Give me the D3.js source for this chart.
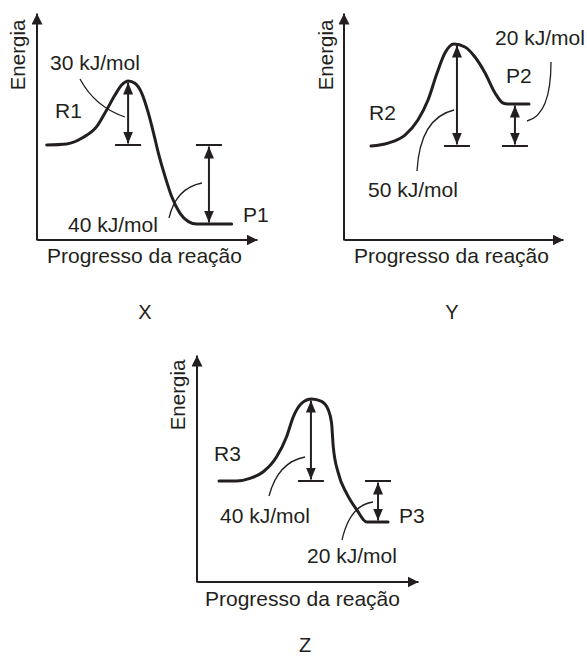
<!DOCTYPE html>
<html lang="pt">
<head>
	<meta charset="utf-8">
	<title>Diagramas de energia X, Y, Z</title>
	<script type="text/javascript" src="https://cdn.jsdelivr.net/npm/d3@7"></script>
	<style>
		body { margin: 0; background: #fff; }
		svg text { font-family: "Liberation Sans", Arial, sans-serif; fill: #231f20; }
	</style>
</head>
<body>
<script type="text/javascript">
	// ---- data ----
	var panelNames = ["X", "Y", "Z"];
	var reagentLabels = ["R1", "R2", "R3"];
	var productLabels = ["P1", "P2", "P3"];
	var activationEnergy = [30, 50, 40];   // kJ/mol
	var reactionEnergy = [-40, 20, -20];   // kJ/mol (produtos - reagentes)
	var xTitle = "Progresso da reação";
	var yTitle = "Energia";

	// energy profiles: progress along the curve (0..1) and energy (kJ/mol)
	var progressX = [0, 0.108, 0.198, 0.27, 0.324, 0.369, 0.405, 0.441, 0.477, 0.514, 0.55, 0.577, 0.604, 0.64, 0.676, 0.721, 0.766, 0.811, 1];
	var energyX   = [0, 0.5, 3.6, 8.6, 16.4, 23.4, 28.1, 30, 28.9, 24.2, 14.8, 5.8, -4.2, -16, -26.2, -34.6, -38.8, -40, -40];
	var progressY = [0, 0.108, 0.215, 0.297, 0.361, 0.418, 0.468, 0.525, 0.595, 0.658, 0.722, 0.785, 0.835, 0.867, 1];
	var energyY   = [0, 1.4, 5.2, 12.4, 22, 35.5, 45.5, 50, 48.5, 43.5, 35.5, 25.5, 20.5, 20, 20];
	var progressZ = [0, 0.103, 0.183, 0.262, 0.341, 0.40, 0.44, 0.49, 0.548, 0.607, 0.646, 0.666, 0.676, 0.706, 0.755, 0.815, 0.874, 1];
	var energyZ   = [0, 0, 1.3, 4.5, 11.8, 21.6, 31.4, 38, 40, 38.8, 34.8, 28.3, 16.8, 3.8, -6, -14, -20, -20];
	var profiles = [[progressX, energyX], [progressY, energyY], [progressZ, energyZ]];

	// where the two double arrows stand (progress)
	var eaPosition = [0.44, 0.544, 0.544];
	var dhPosition = [0.877, 0.911, 0.941];

	// ---- layout (pixels) ----
	var layout = [
		{ yR: 145, yP: 224, yTS: 81, x0: 46.7, x1: 231.7, axisX: 37, axisY: 240, axisTop: 13, axisRight: 257,
		  yTitle: [25, 55], xTitle: [47, 263], name: [145, 319],
		  eaText: [50, 70], dhText: [68, 232], rText: [55, 118], pText: [243, 222],
		  eaLeader: [[80, 79], [95, 107], [125, 117]], dhLeader: [[169, 218], [176, 188], [202, 183]] },
		{ yR: 146, yP: 104, yTS: 44, x0: 371, x1: 529, axisX: 344, axisY: 240, axisTop: 13, axisRight: 563,
		  yTitle: [333, 55], xTitle: [354, 263], name: [452, 319],
		  eaText: [368, 197], dhText: [495, 45], rText: [369, 120], pText: [506, 83],
		  eaLeader: [[417, 171], [420, 118], [454, 110]], dhLeader: [[551, 62], [551, 115], [527, 121]] },
		{ yR: 481, yP: 522, yTS: 399, x0: 219, x1: 388, axisX: 197, axisY: 582, axisTop: 355, axisRight: 418,
		  yTitle: [185, 395], xTitle: [205, 606], name: [305, 652],
		  eaText: [220, 523], dhText: [307, 563], rText: [214, 461], pText: [399, 523],
		  eaLeader: [[269, 496], [278, 462], [305, 457]], dhLeader: [[342, 540], [350, 505], [373, 502]] }
	];

	var ink = "#231f20";
	var fontSize = 21;

	var svg = d3.select("body")
				.append("svg")
				.attr("width", 587)
				.attr("height", 658);

	var defs = svg.append("defs");
	// axis arrow head
	defs.append("marker")
		.attr("id", "axisHead")
		.attr("viewBox", "0 0 10 10")
		.attr("refX", 10).attr("refY", 5)
		.attr("markerUnits", "userSpaceOnUse")
		.attr("markerWidth", 11).attr("markerHeight", 11)
		.attr("orient", "auto")
		.append("path").attr("d", "M0,0L10,5L0,10Z").attr("fill", ink);
	// heads for the energy arrows (end and start)
	defs.append("marker")
		.attr("id", "headEnd")
		.attr("viewBox", "0 0 12 10")
		.attr("refX", 12).attr("refY", 5)
		.attr("markerUnits", "userSpaceOnUse")
		.attr("markerWidth", 12).attr("markerHeight", 10)
		.attr("orient", "auto")
		.append("path").attr("d", "M0,0L12,5L0,10Z").attr("fill", ink);
	defs.append("marker")
		.attr("id", "headStart")
		.attr("viewBox", "0 0 12 10")
		.attr("refX", 0).attr("refY", 5)
		.attr("markerUnits", "userSpaceOnUse")
		.attr("markerWidth", 12).attr("markerHeight", 10)
		.attr("orient", "auto")
		.append("path").attr("d", "M12,0L0,5L12,10Z").attr("fill", ink);

	function leader(g, pts) {
		var p = d3.path();
		p.moveTo(pts[0][0], pts[0][1]);
		p.quadraticCurveTo(pts[1][0], pts[1][1], pts[2][0], pts[2][1]);
		g.append("path")
			.attr("d", p.toString())
			.attr("fill", "none")
			.attr("stroke", ink)
			.attr("stroke-width", 1.3);
	}

	function energyArrow(g, x, yFrom, yTo) {
		// short inset so the heads sit on the lines
		var dir = yTo < yFrom ? -1 : 1;
		g.append("line")
			.attr("x1", x).attr("y1", yFrom + dir * 1.5)
			.attr("x2", x).attr("y2", yTo - dir * 1.5)
			.attr("stroke", ink)
			.attr("stroke-width", 2)
			.attr("marker-start", "url(#headStart)")
			.attr("marker-end", "url(#headEnd)");
	}

	function tick(g, x, y) {
		g.append("line")
			.attr("x1", x - 13).attr("x2", x + 13)
			.attr("y1", y).attr("y2", y)
			.attr("stroke", ink)
			.attr("stroke-width", 2);
	}

	panelNames.forEach(function(name, i) {
		var L = layout[i];
		var ea = activationEnergy[i], dh = reactionEnergy[i];
		var g = svg.append("g").attr("class", "panel-" + name);

		// scales: progress -> x, energy -> y (reagents, products, transition state)
		var xScale = d3.scaleLinear().domain([0, 1]).range([L.x0, L.x1]);
		var levels = [[0, L.yR], [dh, L.yP], [ea, L.yTS]].sort(function(a, b) { return a[0] - b[0]; });
		var yScale = d3.scaleLinear()
						.domain(levels.map(function(d) { return d[0]; }))
						.range(levels.map(function(d) { return d[1]; }));

		// axes drawn with d3 axis, no ticks, arrow on the domain path
		var xAxisScale = d3.scaleLinear()
							.domain([xScale.invert(L.axisX), xScale.invert(L.axisRight)])
							.range([L.axisX, L.axisRight]);
		var yAxisScale = d3.scaleLinear()
							.domain([yScale.invert(L.axisY), yScale.invert(L.axisTop)])
							.range([L.axisY, L.axisTop]);

		g.append("g")
			.attr("class", "axis")
			.attr("transform", "translate(0," + (L.axisY - 0.5) + ")")
			.call(d3.axisBottom(xAxisScale).tickValues([]).tickSizeOuter(0));
		g.append("g")
			.attr("class", "axis")
			.attr("transform", "translate(" + (L.axisX - 0.5) + ",0)")
			.call(d3.axisLeft(yAxisScale).tickValues([]).tickSizeOuter(0));
		g.selectAll(".axis .domain")
			.attr("stroke", ink)
			.attr("stroke-width", 2)
			.attr("marker-end", "url(#axisHead)");

		// energy profile
		var prog = profiles[i][0], en = profiles[i][1];
		var pts = prog.map(function(p, k) { return [p, en[k]]; });
		var line = d3.line()
					.x(function(d) { return xScale(d[0]); })
					.y(function(d) { return yScale(d[1]); })
					.curve(d3.curveMonotoneX);
		g.append("path")
			.datum(pts)
			.attr("d", line)
			.attr("fill", "none")
			.attr("stroke", ink)
			.attr("stroke-width", 3)
			.attr("stroke-linecap", "round");

		// activation energy arrow (reagent level -> peak)
		var xa = xScale(eaPosition[i]);
		tick(g, xa, yScale(0));
		energyArrow(g, xa, yScale(0), yScale(ea));

		// reaction energy arrow (reagent level -> product level)
		var xd = xScale(dhPosition[i]);
		tick(g, xd, yScale(0));
		energyArrow(g, xd, yScale(0), yScale(dh));

		leader(g, L.eaLeader);
		leader(g, L.dhLeader);

		// texts
		function label(pos, txt, anchor) {
			return g.append("text")
				.attr("x", pos[0]).attr("y", pos[1])
				.attr("font-size", fontSize)
				.attr("text-anchor", anchor || "start")
				.text(txt);
		}
		label(L.eaText, ea + " kJ/mol");
		label(L.dhText, Math.abs(dh) + " kJ/mol");
		label(L.rText, reagentLabels[i]);
		label(L.pText, productLabels[i]);
		label(L.xTitle, xTitle);
		label(L.name, name, "middle").attr("font-size", 20);
		g.append("text")
			.attr("transform", "translate(" + L.yTitle[0] + "," + L.yTitle[1] + ") rotate(-90)")
			.attr("text-anchor", "middle")
			.attr("font-size", 20.5)
			.text(yTitle);
	});
</script>
</body>
</html>
